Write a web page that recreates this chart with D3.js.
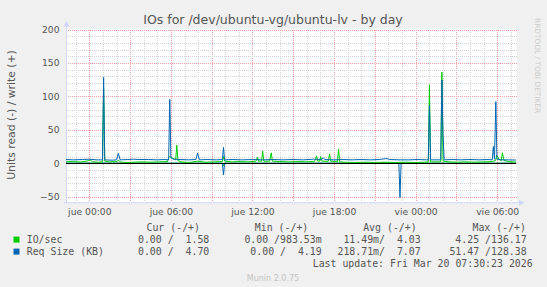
<!DOCTYPE html>
<html>
<head>
<meta charset="utf-8">
<title>IOs for /dev/ubuntu-vg/ubuntu-lv - by day</title>
<script src="https://cdn.jsdelivr.net/npm/d3@7"></script>
<style>
    body { margin:0; background:#f0f0f0; }
    svg { display:block; font-family:'DejaVu Sans', sans-serif; }
    .mono text { font-family:'DejaVu Sans Mono', monospace; white-space:pre; }
</style>
</head>
<body>
<div id="chart"></div>
<script>
// samples: ["day hh:mm", value], day = day of March 2026
var ioWrite = [
    ["18 22:17",2.2],["18 22:45",2.5],["18 23:20",1.8],["18 23:55",3.5],["19 00:03",5],["19 00:15",2],
    ["19 00:40",1.5],["19 00:58",2],["19 01:03",112],["19 01:08",3],["19 01:30",2],["19 02:00",2.5],
    ["19 02:08",4],["19 02:20",1.5],["19 02:45",1],["19 03:20",1.5],["19 03:50",2],["19 04:30",1.5],
    ["19 05:10",2],["19 05:45",2.5],["19 05:50",8],["19 05:55",10],["19 06:05",8],["19 06:15",6],
    ["19 06:21",5],["19 06:26",27],["19 06:31",4],["19 06:45",2],["19 07:20",1],["19 07:58",3],
    ["19 08:30",1.5],["19 09:15",2],["19 09:47",2.5],["19 09:52",10],["19 09:57",3],["19 10:30",2],
    ["19 11:00",2.5],["19 11:40",2],["19 12:15",3],["19 12:22",9],["19 12:27",3],["19 12:40",3],
    ["19 12:45",18],["19 12:50",3],["19 13:15",3],["19 13:23",15.5],["19 13:28",3],["19 14:00",2.5],
    ["19 14:40",2],["19 15:20",2.5],["19 16:00",2],["19 16:35",3],["19 16:43",11],["19 16:48",3],
    ["19 16:56",3],["19 17:01",10],["19 17:06",3],["19 17:35",3],["19 17:40",14],["19 17:45",3],
    ["19 18:15",2.5],["19 18:20",21],["19 18:25",2],["19 18:45",1.5],["19 19:30",1],["19 20:15",1.5],
    ["19 21:00",1],["19 21:45",1.5],["19 22:30",1],["19 23:15",1.5],["20 00:00",1],["20 00:40",1.5],
    ["20 00:56",2],["20 01:01",117],["20 01:06",2],["20 01:30",2],["20 01:51",2],["20 01:56",136.17],
    ["20 02:01",3],["20 02:30",2],["20 03:00",1.5],["20 03:40",2],["20 04:20",1.5],["20 05:00",2],
    ["20 05:38",2.5],["20 05:53",4],["20 05:58",12],["20 06:10",5],["20 06:18",4],["20 06:23",15.7],
    ["20 06:30",4],["20 06:50",2.5],["20 07:10",2],["20 07:23",1.58]
];
var reqWrite = [
    ["18 22:17",5.5],["18 22:50",5],["18 23:30",5.5],["19 00:00",6],["19 00:30",5],["19 00:58",5],
    ["19 01:03",128.38],["19 01:08",5],["19 01:40",4.5],["19 02:00",5],["19 02:08",14.8],["19 02:16",5],
    ["19 02:50",5.5],["19 03:15",6],["19 03:40",5.5],["19 04:20",5.5],["19 05:00",5],["19 05:30",5.5],
    ["19 05:50",5],["19 05:55",95.6],["19 06:00",8],["19 06:10",6],["19 06:40",5.5],["19 07:20",5],
    ["19 07:50",5.5],["19 07:58",15],["19 08:06",5],["19 08:40",5.5],["19 09:20",5],["19 09:47",5.5],
    ["19 09:52",23.8],["19 09:57",5],["19 10:30",5.5],["19 11:15",5],["19 12:00",5.5],["19 12:45",5],
    ["19 13:30",5.5],["19 14:15",5],["19 15:00",5.5],["19 15:45",5],["19 16:30",6],["19 17:05",5.5],
    ["19 17:12",8],["19 17:20",5.5],["19 18:00",5],["19 18:40",5.5],["19 19:20",5],["19 20:00",5.5],
    ["19 20:40",5],["19 21:20",5.5],["19 21:53",7],["19 22:05",5.5],["19 22:51",5],["19 23:30",5],
    ["20 00:10",5.5],["20 00:50",5],["20 00:56",5],["20 01:01",87],["20 01:06",5],["20 01:30",5],
    ["20 01:51",5],["20 01:56",124.5],["20 02:01",42],["20 02:06",5],["20 02:40",5.5],["20 03:20",5],
    ["20 04:00",5.5],["20 04:40",5],["20 05:20",5.5],["20 05:38",5],["20 05:43",25],["20 05:48",6],
    ["20 05:54",92],["20 05:59",6],["20 06:20",5],["20 06:50",5],["20 07:23",4.70]
];
// reads are drawn below zero
var ioRead = [
    ["18 22:17",0],["19 09:47",0],["19 09:52",4.25],["19 09:57",0],
    ["19 22:46",0],["19 22:51",0.3],["19 22:56",0],["20 07:23",0]
];
var reqRead = [
    ["18 22:17",0],["19 09:47",0],["19 09:52",17.7],["19 09:57",0],
    ["19 22:46",0],["19 22:51",51.47],["19 22:56",0],["20 07:23",0]
];

var timeRange = ["18 22:17", "20 07:23"];
var xTickTimes = ["19 00:00","19 06:00","19 12:00","19 18:00","20 00:00","20 06:00"];
var yTicks = [-50, 0, 50, 100, 150, 200];
var dayNames = ["dom","lun","mar","mié","jue","vie","sáb"];

var legendNames = ["IO/sec", "Req Size (KB)"];
var legendColors = ["#00cc00", "#0066b3"];
var legendHeads = ["Cur (-/+)", "Min (-/+)", "Avg (-/+)", "Max (-/+)"];
var curText = ["0.00 /  1.58", "0.00 /  4.70"];
var minText = ["0.00 /983.53m", "0.00 /  4.19"];
var avgText = ["11.49m/  4.03", "218.71m/  7.07"];
var maxText = ["4.25 /136.17", "51.47 /128.38"];

var width = 547, height = 287;
var plotLeft = 66, plotRight = 516, plotTop = 29.5, plotBottom = 202.3;

var parse = function(s) { return d3.timeParse("%Y-%m-%d %H:%M")("2026-03-" + s); };

var x = d3.scaleTime().domain(timeRange.map(parse)).range([plotLeft, plotRight]);
var y = d3.scaleLinear().domain([-58.5, 200]).range([plotBottom, plotTop]);

var svg = d3.select("#chart").append("svg")
    .attr("width", width)
    .attr("height", height);

svg.append("rect").attr("width", width).attr("height", height).attr("fill", "#f0f0f0");
svg.append("rect")
    .attr("x", plotLeft).attr("y", plotTop)
    .attr("width", plotRight - plotLeft + 1).attr("height", plotBottom - plotTop)
    .attr("fill", "#ffffff");

// grid
var grid = svg.append("g").attr("shape-rendering", "crispEdges");
var hours = d3.timeHour.range(x.domain()[0], x.domain()[1]);
hours.forEach(function(h) {
    var major = h.getHours() % 3 == 0;
    grid.append("line")
        .attr("x1", Math.round(x(h)) + 0.5).attr("x2", Math.round(x(h)) + 0.5)
        .attr("y1", plotTop).attr("y2", plotBottom)
        .attr("stroke", major ? "#f2a0a0" : "#d4d4d4")
        .attr("stroke-dasharray", "1,1");
});
d3.range(-50, 201, 10).forEach(function(v) {
    var major = v % 50 == 0;
    grid.append("line")
        .attr("x1", plotLeft).attr("x2", plotRight + 2)
        .attr("y1", Math.round(y(v)) + 0.5).attr("y2", Math.round(y(v)) + 0.5)
        .attr("stroke", major ? "#f2a0a0" : "#d4d4d4")
        .attr("stroke-dasharray", "1,1");
});

// axes
var fmt = function(d) { return dayNames[d.getDay()] + " " + d3.timeFormat("%H:%M")(d); };

var yAxis = svg.append("g")
    .attr("transform", "translate(" + plotLeft + ",0)")
    .call(d3.axisLeft(y).tickValues(yTicks).tickSize(0).tickPadding(6.5));
yAxis.select(".domain").remove();
yAxis.selectAll("text").attr("fill", "#555").style("font-size", "9.2px").style("font-family", "'DejaVu Sans'");

var xAxis = svg.append("g")
    .attr("transform", "translate(0," + plotBottom + ")")
    .call(d3.axisBottom(x).tickValues(xTickTimes.map(parse)).tickFormat(fmt).tickSize(0).tickPadding(6.3));
xAxis.select(".domain").remove();
xAxis.selectAll("text").attr("fill", "#555").style("font-size", "9.2px").style("font-family", "'DejaVu Sans'");

// axis lines with arrows
var axisColor = "#cfd6f8";
svg.append("line").attr("x1", plotLeft + 0.5).attr("x2", plotLeft + 0.5).attr("y1", plotBottom + 1).attr("y2", 24)
    .attr("stroke", axisColor);
svg.append("path").attr("d", "M" + (plotLeft - 2.5) + ",26.5L" + (plotLeft + 0.5) + ",21L" + (plotLeft + 3.5) + ",26.5Z")
    .attr("fill", axisColor);
svg.append("line").attr("x1", plotLeft - 2).attr("x2", 521).attr("y1", plotBottom + 0.5).attr("y2", plotBottom + 0.5)
    .attr("stroke", axisColor);
svg.append("path").attr("d", "M519," + (plotBottom - 2.5) + "L524.5," + (plotBottom + 0.5) + "L519," + (plotBottom + 3.5) + "Z")
    .attr("fill", axisColor);

// series
var lineUp = d3.line().x(function(d) { return x(parse(d[0])); }).y(function(d) { return y(d[1]); });
var lineDown = d3.line().x(function(d) { return x(parse(d[0])); }).y(function(d) { return y(-d[1]); });

svg.append("path").attr("d", lineDown(ioRead)).attr("fill", "none").attr("stroke", legendColors[0]).attr("stroke-width", 1);
svg.append("path").attr("d", lineDown(reqRead)).attr("fill", "none").attr("stroke", legendColors[1]).attr("stroke-width", 1);

svg.append("line")
    .attr("x1", plotLeft).attr("x2", plotRight)
    .attr("y1", Math.round(y(0)) + 0.5).attr("y2", Math.round(y(0)) + 0.5)
    .attr("stroke", "#000").attr("stroke-width", 1);

svg.append("path").attr("d", lineUp(ioWrite)).attr("fill", "none").attr("stroke", legendColors[0]).attr("stroke-width", 1);
svg.append("path").attr("d", lineUp(reqWrite)).attr("fill", "none").attr("stroke", legendColors[1]).attr("stroke-width", 1);

// title and side texts
svg.append("text")
    .attr("x", 273).attr("y", 23.5)
    .attr("text-anchor", "middle")
    .attr("fill", "#555")
    .style("font-size", "12.5px")
    .text("IOs for /dev/ubuntu-vg/ubuntu-lv - by day");

svg.append("text")
    .attr("transform", "translate(14.5,115) rotate(-90)")
    .attr("text-anchor", "middle")
    .attr("fill", "#555")
    .style("font-size", "10.8px")
    .text("Units read (-) / write (+)");

svg.append("text")
    .attr("transform", "translate(535,18) rotate(90)")
    .attr("fill", "#cccccc")
    .style("font-size", "7.4px")
    .text("RRDTOOL / TOBI OETIKER");

// legend
var mono = svg.append("g").attr("class", "mono").style("font-size", "9.9px").attr("fill", "#555");
var headEnds = [200, 308.3, 416.7, 526];
legendHeads.forEach(function(h, i) {
    mono.append("text").attr("x", headEnds[i]).attr("y", 231).attr("text-anchor", "end")
        .attr("xml:space", "preserve").text(h);
});
var colEnds = [209.3, 321.7, 420.7, 526.7];
var cols = [curText, minText, avgText, maxText];
legendNames.forEach(function(name, r) {
    var by = 242.6 + r * 12;
    svg.append("rect").attr("x", 13.5).attr("y", by - 6).attr("width", 6).attr("height", 6)
        .attr("fill", legendColors[r]);
    mono.append("text").attr("x", 26.7).attr("y", by).text(name);
    cols.forEach(function(c, i) {
        mono.append("text").attr("x", colEnds[i]).attr("y", by).attr("text-anchor", "end")
            .attr("xml:space", "preserve").text(c[r]);
    });
});
mono.append("text").attr("x", 532.7).attr("y", 266.8).attr("text-anchor", "end")
    .text("Last update: Fri Mar 20 07:30:23 2026");

svg.append("text")
    .attr("x", 273).attr("y", 280.5)
    .attr("text-anchor", "middle")
    .attr("fill", "#c4c4c4")
    .style("font-size", "8px")
    .text("Munin 2.0.75");
</script>
</body>
</html>
